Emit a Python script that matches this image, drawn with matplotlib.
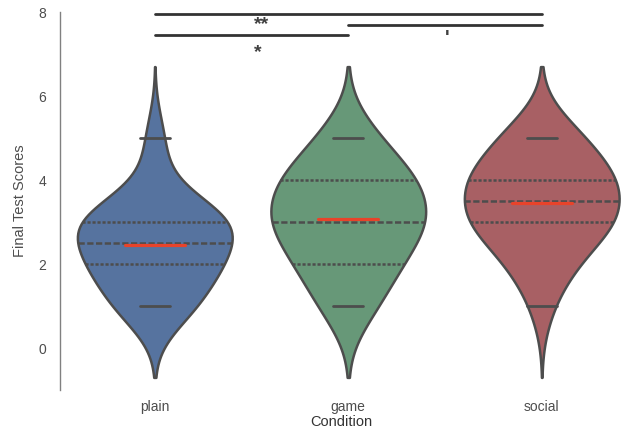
import numpy as np
import pandas as pd
import seaborn as sns
import matplotlib.pyplot as plt

# score counts per condition (scores 1..5)
scores = [1, 2, 3, 4, 5]
conditions = ["plain", "game", "social"]
plain_counts = [4, 6, 8, 1, 1]
game_counts = [3, 5, 8, 7, 3]
social_counts = [1, 3, 7, 7, 4]

# significance bars: (from, to, label)
sig_pairs = [(0, 2, "**"), (1, 2, "'"), (0, 1, "*")]
sig_heights = [7.95, 7.69, 7.45]

sns.set_style("white")
plt.rcParams['font.family'] = ['Liberation Sans', 'DejaVu Sans']
colors = ["#56739f", "#679878", "#a86064"]

rows = []
for cond, counts in zip(conditions, [plain_counts, game_counts, social_counts]):
    for s, c in zip(scores, counts):
        rows += [(cond, s)] * c
df = pd.DataFrame(rows, columns=["Condition", "Final Test Scores"])

fig = plt.figure(figsize=(6.23, 4.32), dpi=100)
ax = fig.add_axes([60/623, 1 - 390/432, 563/623, 378/432])

bw_adj = 1.15
for i, cond in enumerate(conditions):
    sub = df[df["Condition"] == cond].copy()
    vals = sub["Final Test Scores"]
    # same tail length (in score units) for every violin
    bw = len(vals) ** (-0.2) * vals.std() * bw_adj
    sub["Condition"] = pd.Categorical(sub["Condition"], categories=conditions)
    sns.violinplot(data=sub, x="Condition", y="Final Test Scores", order=conditions,
                   color=colors[i], saturation=1, inner="quart", density_norm="width",
                   cut=1.7 / bw, bw_adjust=bw_adj, linewidth=1.8, linecolor="0.3", ax=ax)

    # mean (red) and min / max lines
    ax.plot([i - 0.155, i + 0.155], [vals.mean()] * 2, color="#e8432a", lw=2.3, zorder=5)
    ax.plot([i - 0.078, i + 0.078], [vals.min()] * 2, color="0.3", lw=2, zorder=5)
    ax.plot([i - 0.078, i + 0.078], [vals.max()] * 2, color="0.3", lw=2, zorder=5)

# significance annotations
text_pos = [(0.55, 7.70), (1.51, 7.38), (0.53, 7.03)]
for (a, b, lab), h, (tx, ty) in zip(sig_pairs, sig_heights, text_pos):
    ax.plot([a, b], [h, h], color="0.2", lw=2, clip_on=False)
    ax.text(tx, ty, lab, ha="center", va="center", fontsize=14, color="0.25",
            fontweight="bold")

ax.set_xlim(-0.49, 2.42)
ax.set_ylim(-1, 8)
ax.set_yticks([0, 2, 4, 6, 8])
ax.tick_params(axis="y", labelsize=10, pad=10, colors="0.3", length=0)
ax.tick_params(axis="x", labelsize=10, pad=7, colors="0.3", length=0)
ax.set_xlabel("Condition", fontsize=10.5, color="0.2", labelpad=1)
ax.set_ylabel("Final Test Scores", fontsize=10.5, color="0.3", labelpad=8)
for s in ["top", "right", "bottom"]:
    ax.spines[s].set_visible(False)
ax.spines["left"].set_color("0.5")
ax.spines["left"].set_linewidth(1)

fig.savefig("out.png", dpi=100)
